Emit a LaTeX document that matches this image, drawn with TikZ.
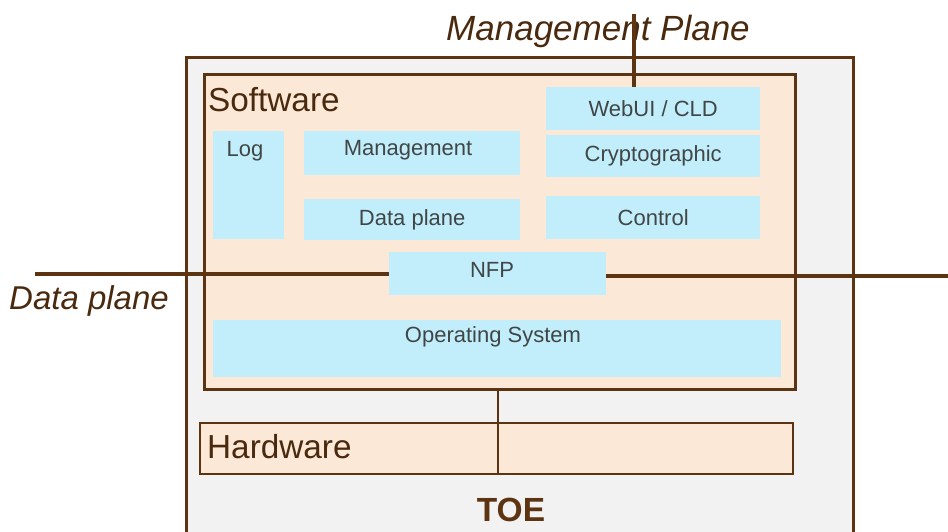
\documentclass[tikz,border=0pt]{standalone}
\usepackage{fontspec}
\setmainfont{Liberation Sans}
\definecolor{brn}{HTML}{5C3412}
\definecolor{toegray}{HTML}{F2F2F2}
\definecolor{swfill}{HTML}{FCE8D6}
\definecolor{cyanbox}{HTML}{C2EEFB}
\definecolor{txt}{HTML}{404646}
\begin{document}
\begin{tikzpicture}[x=1pt,y=-1pt,
  inbox/.style={fill=cyanbox, draw=none, inner sep=0pt, anchor=north west, text=txt, font=\fontsize{22}{24}\selectfont},
  boxtext/.style={text=txt, font=\fontsize{22}{24}\selectfont, inner sep=0pt},
  bigbox/.style={fill=swfill, draw=brn, anchor=north west, inner sep=0pt},
  biglabel/.style={text=brn!80!black, font=\fontsize{33.3}{36}\selectfont, anchor=west, inner sep=0pt},
  planelabel/.style={text=brn!80!black, font=\itshape\fontsize{33}{36}\selectfont, inner sep=0pt},
  plane/.style={draw=brn, line width=3.4pt}]
\useasboundingbox (0,0) rectangle (948,532);
% TOE
\node[fill=toegray, draw=brn, line width=3.2pt, anchor=north west, inner sep=0pt, minimum width=667pt, minimum height=520pt] (toe) at (185,56) {};
\node[text=brn, font=\bfseries\fontsize{33.5}{36}\selectfont, inner sep=0pt] (toelbl) at (511,510) {TOE};
% Software
\node[bigbox, line width=2.6pt, minimum width=591pt, minimum height=315pt] (sw) at (203,73) {};
\node[biglabel] (swlbl) at (208,100) {Software};
% Hardware
\node[bigbox, line width=2.2pt, minimum width=593pt, minimum height=51pt] (hw) at (199,422) {};
\node[biglabel] (hwlbl) at (207,447) {Hardware};
% inner boxes
\node[inbox, minimum width=214pt, minimum height=43pt] (webui) at (546,87) {WebUI / CLD};
\node[inbox, minimum width=214pt, minimum height=42pt] (crypto) at (546,135) {Cryptographic};
\node[inbox, minimum width=214pt, minimum height=43pt] (ctrl) at (546,196) {Control};
\node[inbox, minimum width=71pt, minimum height=108pt] (log) at (213,131) {};
\node[boxtext] (loglbl) at (245,151) {Log};
\node[inbox, minimum width=216pt, minimum height=44pt] (mgmt) at (304,131) {};
\node[boxtext] (mgmtlbl) at (408,150) {Management};
\node[inbox, minimum width=216pt, minimum height=41pt] (dp) at (304,199) {Data plane};
\node[inbox, minimum width=217pt, minimum height=43pt] (nfp) at (389,252) {};
\node[boxtext] (nfplbl) at (492,270) {NFP};
\node[inbox, minimum width=568pt, minimum height=57pt] (os) at (213,320) {};
\node[boxtext] (oslbl) at (493,337) {Operating System};
% connector software-hardware
\coordinate (v1) at (498,388);
\coordinate (v2) at (498,473);
\draw[brn, line width=1.6pt] (v1) -- (v2);
% management plane
\node[planelabel, font=\itshape\fontsize{35}{38}\selectfont] (mplbl) at (598,31) {Management Plane};
\coordinate (mp) at (634,14);
\draw[plane] (mp) -- (mp |- webui.north);
% data plane
\node[planelabel] (dplbl) at (89,301) {Data plane};
\coordinate (dpl) at (35,274);
\coordinate (dpr) at (948,276);
\draw[plane] (dpl) -- (dpl -| nfp.west);
\draw[plane] (dpr) -- (dpr -| nfp.east);
\end{tikzpicture}
\end{document}
